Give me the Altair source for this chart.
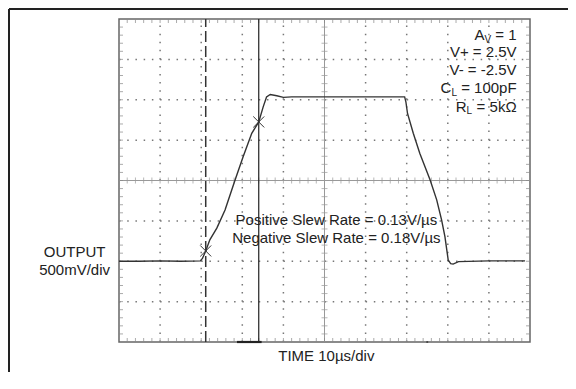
import altair as alt
import pandas as pd
import numpy as np

FONT = "Liberation Sans"
INK = "#222222"

# Waveform: time in divisions (10us/div), output in divisions (500mV/div)
wave_t = [0.0, 0.5, 1.0, 1.5, 1.98, 2.03, 2.11, 2.21, 2.38, 2.58, 2.82, 3.02, 3.23,
          3.40, 3.51, 3.59, 3.68, 3.84, 4.0, 4.2, 5.0, 6.0, 6.95, 6.98, 7.02, 7.16,
          7.32, 7.57, 7.73, 7.85, 7.93, 8.01, 8.07, 8.13, 8.26, 9.0, 9.88]
wave_v = [-2.0, -2.0, -1.99, -2.0, -1.99, -1.93, -1.745, -1.47, -1.18, -0.73, 0.0, 0.59,
          1.17, 1.45, 1.83, 2.07, 2.13, 2.10, 2.06, 2.07, 2.07, 2.07, 2.07, 1.95, 1.66,
          1.17, 0.67, 0.01, -0.48, -0.98, -1.39, -1.97, -2.06, -2.07, -2.01, -1.99, -1.99]

# Cursor positions and slew-rate markers
cursor_dashed = [2.11]
cursor_solid = [3.40]
marker_t = [2.11, 3.40]
marker_v = [-1.745, 1.45]

# Grid
x_major = [1, 2, 3, 4, 6, 7, 8, 9]
y_major = [-3, -2, -1, 1, 2, 3]
x_minor = [round(v, 2) for v in np.arange(0.2, 10.0, 0.2)]
y_minor = [round(v, 2) for v in np.arange(-3.8, 4.0, 0.2)]

# Trigger indicator at the bottom edge
trig_t = [2.87]
trig_t2 = [3.47]
dot_t = [7.5]

XS = alt.Scale(domain=[0, 10], nice=False, zero=False)
YS = alt.Scale(domain=[-4, 4], nice=False, zero=False)
one = pd.DataFrame({"k": [0]})


def X(field="x"):
    return alt.X(f"{field}:Q", scale=XS, axis=None)


def Y(field="y"):
    return alt.Y(f"{field}:Q", scale=YS, axis=None)


layers = []

# dotted grid lines
vg = pd.DataFrame({"x": x_major, "y": -4, "y2": 4})
layers.append(alt.Chart(vg).mark_rule(color="#777777", strokeWidth=1.5,
                                      strokeDash=[1.5, 6.575]).encode(
    x=X(), y=Y(), y2="y2:Q"))
hg = pd.DataFrame({"y": y_major, "x": 0, "x2": 10})
layers.append(alt.Chart(hg).mark_rule(color="#777777", strokeWidth=1.5,
                                      strokeDash=[1.5, 6.72]).encode(
    y=Y(), x=X(), x2="x2:Q"))

# centre cross lines
layers.append(alt.Chart(pd.DataFrame({"y": [0], "x": [0], "x2": [10]})).mark_rule(
    color="#999999", strokeWidth=1).encode(y=Y(), x=X(), x2="x2:Q"))
layers.append(alt.Chart(pd.DataFrame({"x": [5], "y": [-4], "y2": [4]})).mark_rule(
    color="#999999", strokeWidth=1).encode(x=X(), y=Y(), y2="y2:Q"))

# ticks on centre lines
layers.append(alt.Chart(pd.DataFrame({"x": x_minor, "y": 0})).mark_tick(
    orient="vertical", size=6, thickness=1, color="#999999").encode(x=X(), y=Y()))
layers.append(alt.Chart(pd.DataFrame({"y": y_minor, "x": 5})).mark_tick(
    orient="horizontal", size=6, thickness=1, color="#999999").encode(x=X(), y=Y()))

# ticks on border (inward)
layers.append(alt.Chart(pd.DataFrame({"x": x_minor, "y": -4})).mark_tick(
    orient="vertical", size=4, thickness=1, color="#888888", yOffset=-2).encode(x=X(), y=Y()))
layers.append(alt.Chart(pd.DataFrame({"x": x_minor, "y": 4})).mark_tick(
    orient="vertical", size=4, thickness=1, color="#888888", yOffset=2).encode(x=X(), y=Y()))
layers.append(alt.Chart(pd.DataFrame({"y": y_minor, "x": 0})).mark_tick(
    orient="horizontal", size=4, thickness=1, color="#888888", xOffset=2).encode(x=X(), y=Y()))
layers.append(alt.Chart(pd.DataFrame({"y": y_minor, "x": 10})).mark_tick(
    orient="horizontal", size=4, thickness=1, color="#888888", xOffset=-2).encode(x=X(), y=Y()))

# cursors
layers.append(alt.Chart(pd.DataFrame({"x": cursor_dashed, "y": -4, "y2": 4})).mark_rule(
    color="#333333", strokeWidth=1.5, strokeDash=[11, 4]).encode(x=X(), y=Y(), y2="y2:Q"))
layers.append(alt.Chart(pd.DataFrame({"x": cursor_solid, "y": -4, "y2": 4})).mark_rule(
    color="#222222", strokeWidth=1.2).encode(x=X(), y=Y(), y2="y2:Q"))

# waveform
wave = pd.DataFrame({"x": wave_t, "y": wave_v, "i": range(len(wave_t))})
layers.append(alt.Chart(wave).mark_line(color="#333333", strokeWidth=1.4).encode(
    x=X(), y=Y(), order="i:Q"))

# X markers
layers.append(alt.Chart(pd.DataFrame({"x": marker_t, "y": marker_v})).mark_point(
    shape="M-1,-1L1,1M-1,1L1,-1", size=120, filled=False, stroke="#333333",
    strokeWidth=1, opacity=1).encode(x=X(), y=Y()))

# trigger bar and dot at bottom edge
layers.append(alt.Chart(pd.DataFrame({"x": trig_t, "x2": trig_t2, "y": -4})).mark_rule(
    color="#222222", strokeWidth=2.2).encode(x=X(), x2="x2:Q", y=Y()))
layers.append(alt.Chart(pd.DataFrame({"x": dot_t, "y": -4})).mark_point(
    shape="circle", size=5, filled=True, color="#444444", opacity=1).encode(x=X(), y=Y()))

# outer frame (outside plot area)
layers.append(alt.Chart(one).mark_rule(color=INK, strokeWidth=2).encode(
    x=alt.value(-110), x2=alt.value(449), y=alt.value(-10)))
layers.append(alt.Chart(one).mark_rule(color=INK, strokeWidth=2).encode(
    x=alt.value(-110), y=alt.value(-10), y2=alt.value(353)))


def txt(s, px, py, size=15, align="center"):
    return alt.Chart(one).mark_text(text=s, fontSize=size, align=align, baseline="middle",
                                    font=FONT, color=INK).encode(
        x=alt.value(px), y=alt.value(py))


# Arial-compatible advance widths (em)
W = {' ': 0.278, '=': 0.584, '1': 0.556, '0': 0.556, '5': 0.556, 'p': 0.556, 'F': 0.611,
     'k': 0.5, 'Ω': 0.768, 'A': 0.667, 'V': 0.667, 'C': 0.722, 'L': 0.556, 'R': 0.722}


def width(s, size):
    return sum(W.get(c, 0.556) for c in s) * size


RIGHT = 397.6
spec_sub = [("A", "V", " = 1", 16.0), ("C", "L", " = 100pF", 69.3), ("R", "L", " = 5kΩ", 87.7)]
spec_plain = [("V+ = 2.5V", 33.2), ("V- = -2.5V", 51.0)]
SUB = 10
for main, sub, rest, py in spec_sub:
    layers.append(txt(rest, RIGHT, py, align="right"))
    sx = RIGHT - width(rest, 15)
    layers.append(txt(sub, sx, py + 4.5, size=SUB, align="right"))
    layers.append(txt(main, sx - width(sub, SUB), py, align="right"))
for s, py in spec_plain:
    layers.append(txt(s, RIGHT, py, align="right"))

# slew rate text
layers.append(txt("Positive Slew Rate = 0.13V/µs", 217.4, 201.0))
layers.append(txt("Negative Slew Rate = 0.18V/µs", 217.4, 218.5))

# axis labels
layers.append(txt("OUTPUT", -44.4, 232.7))
layers.append(txt("500mV/div", -44.4, 251.0))
layers.append(txt("TIME 10µs/div", 207.3, 337.0))

chart = alt.layer(*layers).properties(
    width=411, height=323,
    padding={"left": 111, "top": 11, "right": 38, "bottom": 30},
    autosize=alt.AutoSizeParams(type="none"),
    background="white",
).configure_view(stroke="#666666", strokeWidth=1.5)

chart.save("out.html", embed_options={"renderer": "svg", "actions": False})
